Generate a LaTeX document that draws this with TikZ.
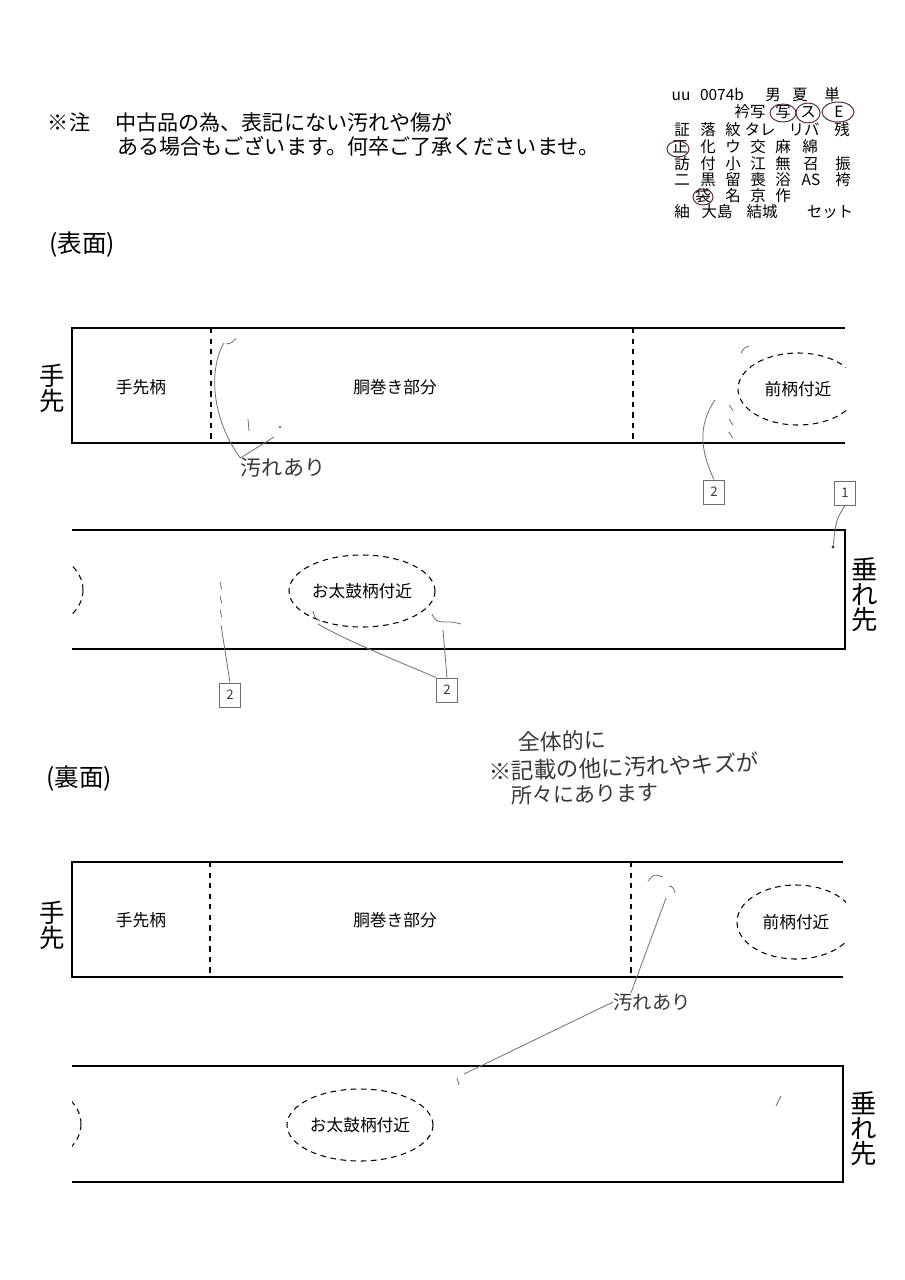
\documentclass[tikz,border=0pt]{standalone}
\usepackage{fontspec}
\setmainfont{Noto Sans CJK JP}
\usepackage{xcolor}
\usetikzlibrary{shapes.geometric}
\definecolor{Pencil}{HTML}{6E6E6E}
\definecolor{Ink}{HTML}{383838}
\definecolor{Plum}{HTML}{5A2346}
\tikzset{
  band/.style={line width=1pt},
  divider/.style={dashed, line width=0.6pt},
  zone/.style={ellipse, draw, dash pattern=on 3.2pt off 2.6pt, line width=0.6pt, inner sep=0pt, font=\fontsize{9.5}{11}\selectfont},
  partlbl/.style={font=\fontsize{9.5}{11}\selectfont},
  endlbl/.style={align=center, inner sep=0pt},
  pencil/.style={draw=Pencil, line width=0.45pt},
  numbox/.style={draw=Pencil, line width=0.5pt, minimum width=4.2mm, minimum height=4.8mm, inner sep=0pt, font=\fontsize{7.5}{8}\selectfont, text=Ink},
  scrawl/.style={text=Ink, inner sep=0pt, font=\fontsize{11.5}{13}\selectfont},
  cell/.style={inner sep=0pt, text height=6.6pt, text depth=1.2pt, font=\fontsize{8.8}{9}\selectfont},
  ring/.style={draw=Plum, line width=0.55pt}
}

\begin{document}
\begin{tikzpicture}[x=0.2mm, y=-0.2mm]
    \useasboundingbox (0,0) rectangle (904,1280);
    \fill[white] (0,0) rectangle (904,1280);

    \node[inner sep=0pt, font=\fontsize{12}{14}\selectfont] (warn0) at (69,122) {※注};
    \node[anchor=west, inner sep=0pt, font=\fontsize{12}{14}\selectfont] (warn1) at (115,122) {中古品の為、表記にない汚れや傷が};
    \node[anchor=west, inner sep=0pt, font=\fontsize{12}{14}\selectfont] (warn2) at (117,146) {ある場合もございます。何卒ご了承くださいませ。};

    \foreach \x/\t [count=\i] in {681/uu,722/0074b,773/男,800/夏,832/単} {
      \node[cell] (ra\i) at (\x,96) {\t};
    }
    \foreach \x/\t [count=\i] in {750/衿写,783/写,808/ス,839/E} {
      \node[cell] (rb\i) at (\x,113) {\t};
    }
    \foreach \x/\t [count=\i] in {682/証,708/落,733/紋,760/タレ,804/リバ,842/残} {
      \node[cell] (rc\i) at (\x,131) {\t};
    }
    \foreach \x/\t [count=\i] in {680/正,708/化,733/ウ,758/交,783/麻,810/綿} {
      \node[cell] (rd\i) at (\x,148) {\t};
    }
    \foreach \x/\t [count=\i] in {682/訪,708/付,733/小,758/江,783/無,811/召,843/振} {
      \node[cell] (re\i) at (\x,165) {\t};
    }
    \foreach \x/\t [count=\i] in {682/二,708/黒,733/留,758/喪,783/浴,811/AS,843/袴} {
      \node[cell] (rf\i) at (\x,181) {\t};
    }
    \foreach \x/\t [count=\i] in {703/袋,733/名,758/京,783/作} {
      \node[cell] (rg\i) at (\x,197) {\t};
    }
    \foreach \x/\t [count=\i] in {682/紬,717/大島,762/結城,830/セット} {
      \node[cell] (rh\i) at (\x,213) {\t};
    }
    \draw[ring] (783,113) ellipse [x radius=13, y radius=9];
    \draw[ring] (808,113) ellipse [x radius=12, y radius=10];
    \draw[ring] (838,112) ellipse [x radius=16, y radius=10];
    \draw[ring] (678,149) ellipse [x radius=11, y radius=8];
    \draw[ring] (703,197) ellipse [x radius=10, y radius=8];

    \node[inner sep=0pt, font=\fontsize{14}{16}\selectfont] (omote) at (82,245) {(表面)};
    \node[inner sep=0pt, font=\fontsize{14}{16}\selectfont] (ura) at (79,779) {(裏面)};

    \draw[band] (845,328) -- (72,328) -- (72,443) -- (845,443);
    \draw[divider] (211,328) -- (211,443);
    \draw[divider] (633,328) -- (633,443);
    \draw[band] (72,530) -- (845,530) -- (845,649) -- (72,649);
    \draw[band] (843,862) -- (72,862) -- (72,977) -- (843,977);
    \draw[divider] (210,862) -- (210,977);
    \draw[divider] (631,862) -- (631,977);
    \draw[band] (72,1066) -- (843,1066) -- (843,1182) -- (72,1182);

    \node[endlbl, font=\fontsize{14.5}{13}\selectfont] (te1) at (52,388) {手\\先};
    \node[endlbl, font=\fontsize{14.5}{13}\selectfont] (te2) at (52,925) {手\\先};
    \node[endlbl, font=\fontsize{15}{14.2}\selectfont] (ta1) at (865,595) {垂\\れ\\先};
    \node[endlbl, font=\fontsize{15}{14.2}\selectfont] (ta2) at (864,1129) {垂\\れ\\先};

    \node[partlbl] (tsaki1) at (141,387) {手先柄};
    \node[partlbl] (dou1) at (395,387) {胴巻き部分};
    \node[partlbl] (tsaki2) at (141,920) {手先柄};
    \node[partlbl] (dou2) at (395,920) {胴巻き部分};

    \begin{scope}
      \clip (72,0) rectangle (846,1280);
      \node[zone, minimum width=24mm, minimum height=14.4mm] (mae1) at (798,389) {前柄付近};
      \node[zone, minimum width=23.6mm, minimum height=14.8mm] (mae2) at (796,922) {前柄付近};
      \node[zone, minimum width=19.2mm, minimum height=15.2mm] (edge1) at (35,590) {};
      \node[zone, minimum width=19.2mm, minimum height=15.2mm] (edge2) at (33,1124) {};
    \end{scope}
    \node[zone, minimum width=29.2mm, minimum height=14.4mm] (taiko1) at (362,591) {お太鼓柄付近};
    \node[zone, minimum width=29.2mm, minimum height=14.4mm] (taiko2) at (360,1125) {お太鼓柄付近};

    \coordinate (mkA) at (224,343);
    \coordinate (mkB) at (274,437);
    \coordinate (mkR) at (715,400);
    \coordinate (dot1) at (833,547);
    \coordinate (mkC) at (221,625);
    \coordinate (mkD) at (318,624);
    \coordinate (mkE) at (443,630);
    \coordinate (mkF) at (666,898);
    \coordinate (mkG) at (464,1074);

    \node[scrawl, font=\fontsize{12}{13}\selectfont] (s1) at (283,468) {汚れあり};
    \node[scrawl, font=\fontsize{11}{13}\selectfont] (s2) at (652,1002) {汚れあり};
    \node[numbox] (n2a) at (714,492) {2};
    \node[numbox] (n1) at (845,493) {1};
    \node[numbox] (n2b) at (230,695) {2};
    \node[numbox] (n2c) at (447,690) {2};

    \draw[pencil] (226,344) .. controls (232,343) .. (236,338);
    \draw[pencil] (s1.north west) .. controls (212,420) and (208,370) .. (mkA);
    \draw[pencil] (s1.north west) -- (mkB);
    \draw[pencil] (248,419) -- (249,431);
    \fill[Pencil] (280,427) circle (1.3);

    \draw[pencil] (741,353) .. controls (744,348) .. (749,346);
    \foreach \y in {405,419,432} {
      \draw[pencil] (736-\y/60,\y) -- ++(4,6);
    }
    \draw[pencil] (n2a.north) .. controls (700,450) and (698,425) .. (mkR);
    \draw[pencil] (n1.south) .. controls (836,520) .. (dot1);
    \fill[Ink] (dot1) circle (1.6);

    \foreach \y in {582,596,610} {
      \draw[pencil] (220+\y/200-2.9,\y) -- ++(1.5,7);
    }
    \draw[pencil] (n2b.north) -- (mkC);
    \draw[pencil] (313,611) .. controls (315,618) .. (320,621);
    \draw[pencil] (n2c.north west) .. controls (395,660) and (345,640) .. (mkD);
    \draw[pencil] (432,614) .. controls (436,622) .. (452,622) -- (461,624);
    \draw[pencil] (n2c.north) -- (mkE);

    \node[scrawl, font=\fontsize{12.5}{13}\selectfont, rotate=2] (note1) at (562,741) {全体的に};
    \node[scrawl, font=\fontsize{12.8}{13}\selectfont, rotate=2] (note2) at (624,767) {※記載の他に汚れやキズが};
    \node[scrawl, font=\fontsize{12}{13}\selectfont, rotate=1] (note3) at (585,794) {所々にあります};

    \draw[pencil] (648,881) .. controls (654,874) .. (663,877);
    \draw[pencil] (669,886) .. controls (673,887) .. (675,893);
    \draw[pencil] ([xshift=3.6mm]s2.north west) -- (mkF);
    \draw[pencil] (s2.west) -- (mkG);
    \draw[pencil] (457,1078) -- (459,1085);
    \draw[pencil] (776,1106) -- (781,1096);
  \end{tikzpicture}
\end{document}
